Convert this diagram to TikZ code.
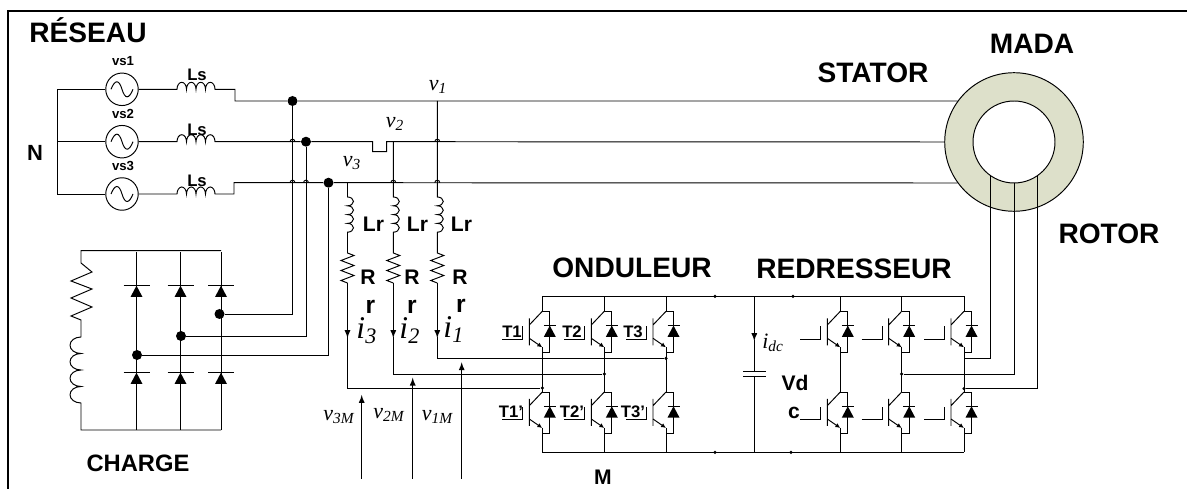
\documentclass[tikz,border=0pt]{standalone}
\usepackage{fontspec}
\setmainfont{Liberation Serif}
\setsansfont{Liberation Sans}
\usetikzlibrary{arrows.meta}
\tikzset{>=latex}
\tikzset{
    every path/.style={line width=.55pt},
    title/.style={inner sep=0pt, font=\sffamily\bfseries\fontsize{16}{18}\selectfont},
    lbl/.style={inner sep=0pt, font=\sffamily\bfseries\fontsize{12}{14}\selectfont},
    lblsmall/.style={inner sep=0pt, font=\sffamily\bfseries\fontsize{9.5}{11}\selectfont},
    lbltiny/.style={inner sep=0pt, font=\sffamily\bfseries\fontsize{7.5}{9}\selectfont},
    volt/.style={inner sep=0pt, font=\itshape\fontsize{12.5}{14}\selectfont},
    cur/.style={inner sep=0pt, anchor=base west, font=\itshape\fontsize{18}{20}\selectfont},
    source/.style={circle, draw, fill=white, inner sep=0pt, minimum size=.65cm},
    bigdot/.style={circle, fill, inner sep=0pt, minimum size=.2cm},
    smalldot/.style={circle, fill, inner sep=0pt, minimum size=.07cm},
    igbttip/.style={-{Latex[length=2.8pt,width=2.6pt]}},
}
\definecolor{ringfill}{HTML}{DDE0CA}
\newcommand{\coilH}{arc (180:360:4.75 and 7) arc (180:360:4.75 and 7) arc (180:360:4.75 and 7) arc (180:360:4.75 and 7)}
\newcommand{\coilV}{arc (-90:90:6 and 4.4) arc (-90:90:6 and 4.4) arc (-90:90:6 and 4.4) arc (-90:90:6 and 4.4)}
\newcommand{\coilL}{arc (-90:-270:11 and 8.25) arc (-90:-270:11 and 8.25) arc (-90:-270:11 and 8.25) arc (-90:-270:11 and 8.25)}
\newcommand{\zigR}{-- ++(6.5, 2.5) -- ++(-13, 5) -- ++(13, 5) -- ++(-13, 5) -- ++(13, 5) -- ++(-13, 5) -- ++(6.5, 2.5)}
\newcommand{\hop}[2]{\draw (#1-2.5, #2) arc (180:360:2.5)}
\newcommand{\diodeUp}[3]{
    \draw (#1-#3, #2) -- (#1+#3, #2);
    \fill (#1, #2) -- (#1-6, #2+11.3) -- (#1+6, #2+11.3) -- cycle
}
\newcommand{\igbt}[2]{
    \begin{scope}[shift={(#1, #2)}]
        \draw (0, 0) -- (7.5, 0) -- (7.5, 41.3) -- (0, 41.3);
        \diodeUp{7.5}{14.3}{6};
        \draw (-13, 7) -- (-13, 34) (-13, 13.7) -- (0, 0);
        \draw[igbttip] (-13, 27) -- (0, 36);
        \draw (-40, 27.7) -- (-19.7, 27.7) -- (-19.7, 14.7);
    \end{scope}
}

\begin{document}
\begin{tikzpicture}[x=.02cm, y=-.02cm]
    \useasboundingbox (0, 0) rectangle (1187, 489);
    \draw[line width=1pt] (1187, 11) -- (8, 11) -- (8, 489);
    % network side
    \node[title] (reseau) at (88, 30) {RÉSEAU};
    \node[lbl, font=\sffamily\bfseries\fontsize{12.5}{14}\selectfont] (neutre) at (35, 153) {N};
    \foreach \n/\y/\ly in {1/89.3/61, 2/141.7/114, 3/194/166}{
        \node[source] (vs\n) at (122, \y) {};
        \draw[shift={(vs\n.center)}] (-11, 0) .. controls (-7, -10) and (-3, -10) .. (0, 0) .. controls (3, 10) and (7, 10) .. (11, 0);
        \node[lbltiny] (vsl\n) at (123, \ly) {vs\n};
    }
    \node[lblsmall] (ls1) at (197, 75) {Ls};
    \node[lblsmall] (ls2) at (197, 130) {Ls};
    \node[lblsmall] (ls3) at (197, 181) {Ls};
    \draw (vs1.west) -- (57.5, 89.3) -- (57.5, 194) -- (vs3.west);
    \draw (vs2.west) -- (57.5, 141.7);
    % machine
    \node[circle, draw, fill=ringfill, inner sep=0pt, minimum size=2.772cm] (mada) at (1014, 142) {};
    \node[circle, draw, fill=white, inner sep=0pt, minimum size=1.64cm] (rotorc) at (1014, 142) {};
    \node[title] (madat) at (1032, 44) {MADA};
    \node[title] (stator) at (873, 73) {STATOR};
    \node[title] (rotor) at (1109, 234) {ROTOR};
    % three lines
    \node[bigdot] (n1) at (292.5, 101) {};
    \node[bigdot] (n2) at (306, 141.7) {};
    \node[bigdot] (n3) at (328.5, 182.7) {};
    \draw (vs1) -- (177, 89.3) \coilH -- (235, 89.3) -- (235, 101) -- (n1) -- (mada.144);
    \draw (vs2) -- (177, 141.7) \coilH -- (n2) -- (372.7, 141.7) -- ++(0, 10) -- ++(14, 0) -- ++(0, -10) -- (mada.west);
    \draw (vs3) -- (177, 194) \coilH -- (234, 194) -- (234, 182.7) -- (n3) -- (mada.-144);
    \hop{292.5}{141.7};
    \hop{292.5}{182.7};
    \hop{306}{182.7};
    \hop{393.3}{182.7};
    \hop{437.3}{141.7};
    \hop{437.3}{182.7};
    \node[volt] (v1) at (438, 87) {v\textsubscript{1}};
    \node[volt] (v2) at (395, 124) {v\textsubscript{2}};
    \node[volt] (v3) at (352, 163) {v\textsubscript{3}};
    % load
    \foreach \x in {136.5, 180.5, 221}{
        \draw (\x, 252) -- (\x, 430);
        \diodeUp{\x}{285.7}{13};
        \diodeUp{\x}{372.7}{13};
    }
    \draw (221, 250.7) -- (81, 250.7) -- (81, 263) -- ++(11, 9) -- ++(-21, 9) -- ++(21, 8) -- ++(-21, 9) -- ++(21, 9) -- ++(-21, 9) -- ++(10, 4)
        -- (81, 337) \coilL -- (81, 430) -- (221, 430);
    \node[bigdot] (d1) at (219.5, 314) {};
    \node[bigdot] (d2) at (181, 336) {};
    \node[bigdot] (d3) at (137, 355) {};
    \draw (n1) |- (d1);
    \draw (n2) |- (d2);
    \draw (n3) |- (d3);
    \node[title, font=\sffamily\bfseries\fontsize{13.5}{16}\selectfont] (charge) at (138, 463) {CHARGE};
    % filter branches
    \node[smalldot] (t3) at (542.3, 388) {};
    \node[smalldot] (t2) at (604.3, 374) {};
    \node[smalldot] (t1) at (666, 358.3) {};
    \foreach \x/\yt/\t in {347.5/182.7/t3, 393.3/141.7/t2, 437.3/101/t1}{
        \draw (\x, \yt) -- (\x, 197) \coilV -- (\x, 253) \zigR;
        \draw[->] (\x, 283) -- (\x, 338);
        \draw (\x, 337) |- (\t);
    }
    \node[lbl] (lr3) at (373.5, 224) {Lr};
    \node[lbl] (lr2) at (417.5, 224) {Lr};
    \node[lbl] (lr1) at (461.5, 224) {Lr};
    \node[lbl] (r3) at (368, 277) {R};
    \node[lbl] (r2) at (412, 277) {R};
    \node[lbl] (r1) at (460, 277) {R};
    \node[lbl, font=\sffamily\bfseries\fontsize{14}{16}\selectfont] (a3) at (370.5, 307) {r};
    \node[lbl, font=\sffamily\bfseries\fontsize{14}{16}\selectfont] (a2) at (412, 307) {r};
    \node[lbl, font=\sffamily\bfseries\fontsize{14}{16}\selectfont] (a1) at (461, 306) {r};
    \node[cur] (i3) at (356, 339) {i\textsubscript{3}};
    \node[cur] (i2) at (399, 339) {i\textsubscript{2}};
    \node[cur] (i1) at (443, 338) {i\textsubscript{1}};
    % measured voltages
    \coordinate (m3) at (361.7, 479);
    \coordinate (m2) at (412.7, 479);
    \coordinate (m1) at (461.7, 479);
    \draw[->] (m3) -- (361.7, 395);
    \draw[->] (m2) -- (412.7, 377.7);
    \draw[->] (m1) -- (461.7, 362.3);
    \node[volt] (v3m) at (339, 417) {v\textsubscript{3M}};
    \node[volt] (v2m) at (389, 415) {v\textsubscript{2M}};
    \node[volt] (v1m) at (437.5, 417) {v\textsubscript{1M}};
    % converters
    \coordinate (topL) at (542.3, 296.3);
    \coordinate (topR) at (964, 296.3);
    \coordinate (botL) at (542.3, 452.3);
    \coordinate (botR) at (964, 452.3);
    \draw (topL) -- (topR);
    \draw (botL) -- (botR);
    \foreach \cx in {542.3, 604.3, 666, 840.3, 901.7, 964}{
        \draw (\cx, 296.3) -- (\cx, 311.3) (\cx, 347.3) -- (\cx, 392) (\cx, 428) -- (\cx, 452.3);
        \igbt{\cx}{311.3};
        \igbt{\cx}{392};
    }
    \node[smalldot] (u1) at (715, 296.3) {};
    \node[smalldot] (u2) at (793, 296.3) {};
    \node[smalldot] (u3) at (715, 452.3) {};
    \node[smalldot] (u4) at (791, 452.3) {};
    \node[title] (onduleur) at (632, 268) {ONDULEUR};
    \node[title] (redresseur) at (854, 269) {REDRESSEUR};
    \node[lbl] (mm) at (603, 477) {M};
    \foreach \x/\tn in {512/T1, 572/T2, 633/T3}{
        \node[lblsmall] (\tn) at (\x, 332) {\tn};
    }
    \foreach \x/\tn/\nm in {511/T1'/B1, 572/T2'/B2, 633/T3'/B3}{
        \node[lblsmall] (\nm) at (\x, 412) {\tn};
    }
    % DC link
    \coordinate (capT) at (754.3, 296.3);
    \coordinate (capB) at (754.3, 452.3);
    \draw[->] (capT) -- (754.3, 341);
    \draw (754.3, 340) -- (754.3, 371) (743, 371) -- (765.5, 371) (743, 376) -- (765.5, 376) (754.3, 376) -- (capB);
    \node[volt] (idc) at (773, 343) {i\textsubscript{dc}};
    \node[lbl] (vd) at (795, 383) {Vd};
    \node[lbl] (cc) at (794, 413) {c};
    % rotor wires
    \node[smalldot] (r2j) at (901.7, 374) {};
    \node[smalldot] (r3j) at (964, 388.7) {};
    \coordinate (r1j) at (964, 358.3);
    \draw (r1j) -| (rotorc.-125);
    \draw (r2j) -| (rotorc.south);
    \draw (r3j) -| (rotorc.-55);
\end{tikzpicture}
\end{document}
